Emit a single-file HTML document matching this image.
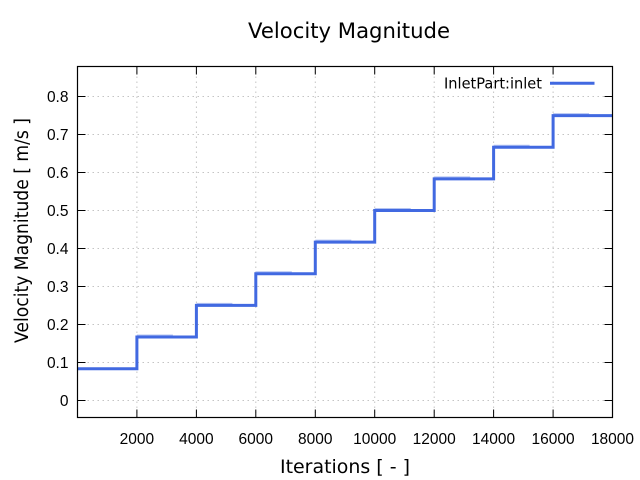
<!DOCTYPE html>
<html><head><meta charset="utf-8"><style>
html,body{margin:0;padding:0;background:#fff;}
svg{display:block;}
</style></head><body>
<svg width="640" height="480" viewBox="0 0 640 480" xmlns="http://www.w3.org/2000/svg">
<rect width="640" height="480" fill="#fff"/>
<!-- grid -->
<g stroke="#c4c4c4" stroke-width="1" stroke-dasharray="1.5,3.5" fill="none">
<line x1="136.9" y1="66.5" x2="136.9" y2="417.5"/>
<line x1="196.4" y1="66.5" x2="196.4" y2="417.5"/>
<line x1="255.8" y1="66.5" x2="255.8" y2="417.5"/>
<line x1="315.3" y1="66.5" x2="315.3" y2="417.5"/>
<line x1="374.7" y1="66.5" x2="374.7" y2="417.5"/>
<line x1="434.2" y1="66.5" x2="434.2" y2="417.5"/>
<line x1="493.6" y1="66.5" x2="493.6" y2="417.5"/>
<line x1="553.1" y1="66.5" x2="553.1" y2="417.5"/>
<line x1="77.5" y1="400.5" x2="612.5" y2="400.5"/>
<line x1="77.5" y1="362.5" x2="612.5" y2="362.5"/>
<line x1="77.5" y1="324.5" x2="612.5" y2="324.5"/>
<line x1="77.5" y1="286.5" x2="612.5" y2="286.5"/>
<line x1="77.5" y1="248.5" x2="612.5" y2="248.5"/>
<line x1="77.5" y1="210.5" x2="612.5" y2="210.5"/>
<line x1="77.5" y1="172.5" x2="612.5" y2="172.5"/>
<line x1="77.5" y1="134.5" x2="612.5" y2="134.5"/>
<line x1="77.5" y1="96.5" x2="612.5" y2="96.5"/>
</g>
<!-- ticks -->
<g stroke="#000" stroke-width="1">
<path d="M136.9 417.5v-8M196.4 417.5v-8M255.8 417.5v-8M315.3 417.5v-8M374.7 417.5v-8M434.2 417.5v-8M493.6 417.5v-8M553.1 417.5v-8"/>
<path d="M136.9 66.5v8M196.4 66.5v8M255.8 66.5v8M315.3 66.5v8M374.7 66.5v8M434.2 66.5v8M493.6 66.5v8M553.1 66.5v8"/>
<path d="M77.5 400.5h8M77.5 362.5h8M77.5 324.5h8M77.5 286.5h8M77.5 248.5h8M77.5 210.5h8M77.5 172.5h8M77.5 134.5h8M77.5 96.5h8"/>
<path d="M612.5 400.5h-8M612.5 362.5h-8M612.5 324.5h-8M612.5 286.5h-8M612.5 248.5h-8M612.5 210.5h-8M612.5 172.5h-8M612.5 134.5h-8M612.5 96.5h-8"/>
</g>
<!-- light overlay traces -->
<g stroke="#b4c4f2" stroke-width="3" fill="none">
<path d="M136.9 336h36"/>
<path d="M196.4 304.4h36"/>
<path d="M255.8 272.8h36"/>
<path d="M315.3 241.1h36"/>
<path d="M374.7 209.5h36"/>
<path d="M434.2 177.9h36"/>
<path d="M493.6 146.3h36"/>
<path d="M553.1 114.6h36"/>
</g>
<!-- series -->
<path d="M77.5 368.7H136.9V337.0H196.4V305.4H255.8V273.8H315.3V242.1H374.7V210.5H434.2V178.9H493.6V147.3H553.1V115.6H612.5" stroke="#4169e1" stroke-width="3" fill="none" stroke-linejoin="miter"/>
<!-- frame -->
<rect x="77.5" y="66.5" width="535" height="351" fill="none" stroke="#000" stroke-width="1.2"/>
<!-- tick labels -->
<g font-family="Liberation Sans, DejaVu Sans, sans-serif" font-size="15.5" fill="#000" text-anchor="middle">
<text x="136.9" y="444">2000</text>
<text x="196.4" y="444">4000</text>
<text x="255.8" y="444">6000</text>
<text x="315.3" y="444">8000</text>
<text x="374.7" y="444">10000</text>
<text x="434.2" y="444">12000</text>
<text x="493.6" y="444">14000</text>
<text x="553.1" y="444">16000</text>
<text x="612.5" y="444">18000</text>
</g>
<g font-family="Liberation Sans, DejaVu Sans, sans-serif" font-size="15.5" fill="#000" text-anchor="end">
<text x="68.5" y="406">0</text>
<text x="68.5" y="368">0.1</text>
<text x="68.5" y="330">0.2</text>
<text x="68.5" y="292">0.3</text>
<text x="68.5" y="254">0.4</text>
<text x="68.5" y="216">0.5</text>
<text x="68.5" y="178">0.6</text>
<text x="68.5" y="140">0.7</text>
<text x="68.5" y="102">0.8</text>
</g>
<!-- title & axis labels -->
<text x="248" y="38" font-family="DejaVu Sans, Liberation Sans, sans-serif" font-size="21" fill="#000" textLength="202" lengthAdjust="spacingAndGlyphs">Velocity Magnitude</text>
<text x="280" y="473" font-family="DejaVu Sans, Liberation Sans, sans-serif" font-size="19" fill="#000" textLength="130" lengthAdjust="spacingAndGlyphs">Iterations [ - ]</text>
<text transform="translate(28,343) rotate(-90)" x="0" y="0" font-family="DejaVu Sans, Liberation Sans, sans-serif" font-size="18.5" fill="#000" textLength="225" lengthAdjust="spacingAndGlyphs">Velocity Magnitude [ m/s ]</text>
<!-- legend -->
<text x="444" y="88.5" font-family="DejaVu Sans, Liberation Sans, sans-serif" font-size="15.5" fill="#000" textLength="98" lengthAdjust="spacingAndGlyphs">InletPart:inlet</text>
<line x1="550" y1="83.3" x2="594.5" y2="83.3" stroke="#4169e1" stroke-width="3"/>
</svg>
</body></html>
